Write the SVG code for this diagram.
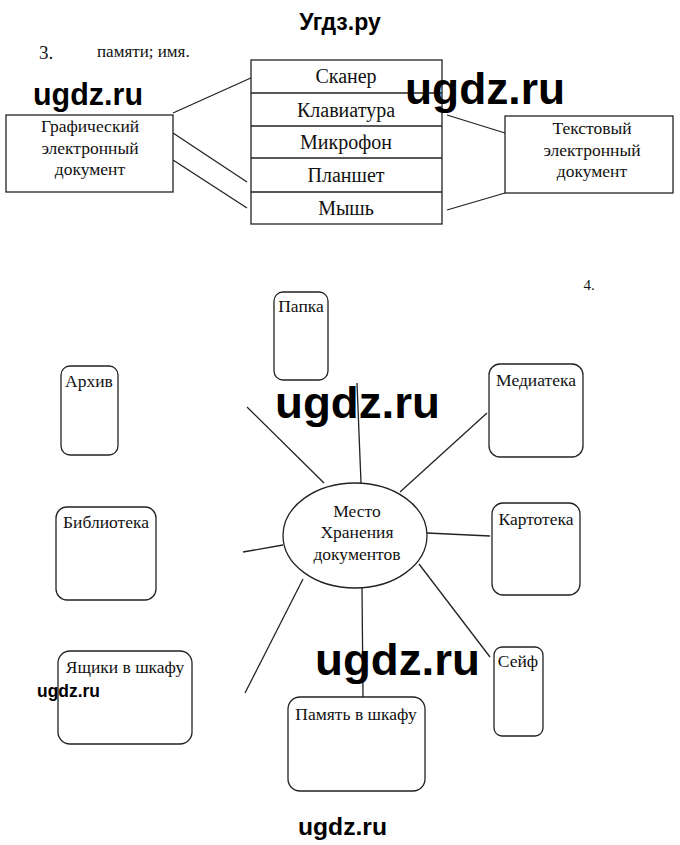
<svg xmlns="http://www.w3.org/2000/svg" width="680" height="845" viewBox="0 0 680 845">
<style>
.box{fill:#fff;stroke:#222;stroke-width:1.3}
.rbox{fill:#fff;stroke:#222;stroke-width:1.3}
.ln{stroke:#222;stroke-width:1.3;fill:none}
.t{font-family:"Liberation Serif","Times New Roman",serif;fill:#111;text-anchor:middle}
.t3{font-size:20px}
.tb{font-size:17.5px}
.t4{font-size:17.5px}
.wm{font-family:"Liberation Sans",Arial,sans-serif;font-weight:bold;fill:#000}
</style>
<rect width="680" height="845" fill="#fff"/>
<text class="wm" x="340" y="30" font-size="23" text-anchor="middle">Угдз.ру</text>
<text class="t" x="46" y="59" font-size="19">3.</text>
<text class="t" x="97" y="57" font-size="17" style="text-anchor:start">памяти; имя.</text>

<g id="connectors">
<line class="ln" x1="173" y1="113" x2="253" y2="77"/>
<line class="ln" x1="173" y1="133" x2="247" y2="182"/>
<line class="ln" x1="173" y1="160" x2="247" y2="208"/>
<line class="ln" x1="447" y1="115" x2="505" y2="133"/>
<line class="ln" x1="447" y1="210" x2="505" y2="193"/>
<line class="ln" x1="247" y1="407" x2="324" y2="483"/>
<line class="ln" x1="357" y1="383" x2="361" y2="483"/>
<line class="ln" x1="487" y1="413" x2="400" y2="492"/>
<line class="ln" x1="427" y1="533" x2="490" y2="536"/>
<line class="ln" x1="243" y1="552" x2="283" y2="545"/>
<line class="ln" x1="303" y1="579" x2="245" y2="693"/>
<line class="ln" x1="362" y1="588" x2="363" y2="697"/>
<line class="ln" x1="419" y1="564" x2="490" y2="657"/>
</g>

<g id="table">
<rect class="box" x="251" y="60" width="191" height="164"/>
<line class="ln" x1="251" y1="93" x2="442" y2="93"/>
<line class="ln" x1="251" y1="126" x2="442" y2="126"/>
<line class="ln" x1="251" y1="158" x2="442" y2="158"/>
<line class="ln" x1="251" y1="192" x2="442" y2="192"/>
<text class="t t3" x="346" y="83">Сканер</text>
<text class="t t3" x="346" y="117">Клавиатура</text>
<text class="t t3" x="346" y="149">Микрофон</text>
<text class="t t3" x="346" y="182">Планшет</text>
<text class="t t3" x="346" y="215">Мышь</text>
</g>

<g id="graphic-doc">
<rect class="box" x="6" y="115" width="167" height="77"/>
<text class="t tb" x="90" y="132">Графический</text>
<text class="t tb" x="90" y="154">электронный</text>
<text class="t tb" x="90" y="175">документ</text>
</g>

<g id="text-doc">
<rect class="box" x="505" y="116" width="168" height="77"/>
<text class="t tb" x="592" y="134">Текстовый</text>
<text class="t tb" x="592" y="156">электронный</text>
<text class="t tb" x="592" y="177">документ</text>
</g>

<text class="t" x="589" y="290" font-size="15">4.</text>

<g id="papka">
<rect class="rbox" x="274" y="292" width="54" height="88" rx="9"/>
<text class="t t4" x="301" y="312">Папка</text>
</g>
<g id="arhiv">
<rect class="rbox" x="61" y="366" width="57" height="89" rx="9"/>
<text class="t t4" x="89" y="387">Архив</text>
</g>
<g id="mediateka">
<rect class="rbox" x="489" y="364" width="94" height="93" rx="11"/>
<text class="t t4" x="536" y="386">Медиатека</text>
</g>
<g id="biblioteka">
<rect class="rbox" x="56" y="507" width="100" height="93" rx="11"/>
<text class="t t4" x="106" y="528">Библиотека</text>
</g>
<g id="kartoteka">
<rect class="rbox" x="492" y="503" width="88" height="92" rx="11"/>
<text class="t t4" x="536" y="525">Картотека</text>
</g>
<g id="center">
<ellipse class="box" cx="355" cy="535.5" rx="72" ry="52.5"/>
<text class="t t4" x="357" y="517">Место</text>
<text class="t t4" x="357" y="538">Хранения</text>
<text class="t t4" x="357" y="560">документов</text>
</g>
<g id="yashchiki">
<rect class="rbox" x="58" y="651" width="134" height="93" rx="12"/>
<text class="t t4" x="125" y="673">Ящики в шкафу</text>
</g>
<g id="pamyat">
<rect class="rbox" x="288" y="697" width="137" height="94" rx="12"/>
<text class="t t4" x="356" y="720">Память в шкафу</text>
</g>
<g id="seif">
<rect class="rbox" x="494" y="647" width="49" height="89" rx="8"/>
<text class="t t4" x="518" y="667">Сейф</text>
</g>

<text class="wm" x="33" y="105" font-size="31" textLength="110" lengthAdjust="spacingAndGlyphs">ugdz.ru</text>
<text class="wm" x="405" y="104" font-size="44" textLength="160" lengthAdjust="spacingAndGlyphs">ugdz.ru</text>
<text class="wm" x="275" y="418" font-size="45" textLength="165" lengthAdjust="spacingAndGlyphs">ugdz.ru</text>
<text class="wm" x="315" y="675" font-size="45" textLength="165" lengthAdjust="spacingAndGlyphs">ugdz.ru</text>
<text class="wm" x="37" y="697" font-size="18" textLength="63" lengthAdjust="spacingAndGlyphs">ugdz.ru</text>
<text class="wm" x="298" y="835" font-size="24" textLength="89" lengthAdjust="spacingAndGlyphs">ugdz.ru</text>
</svg>
